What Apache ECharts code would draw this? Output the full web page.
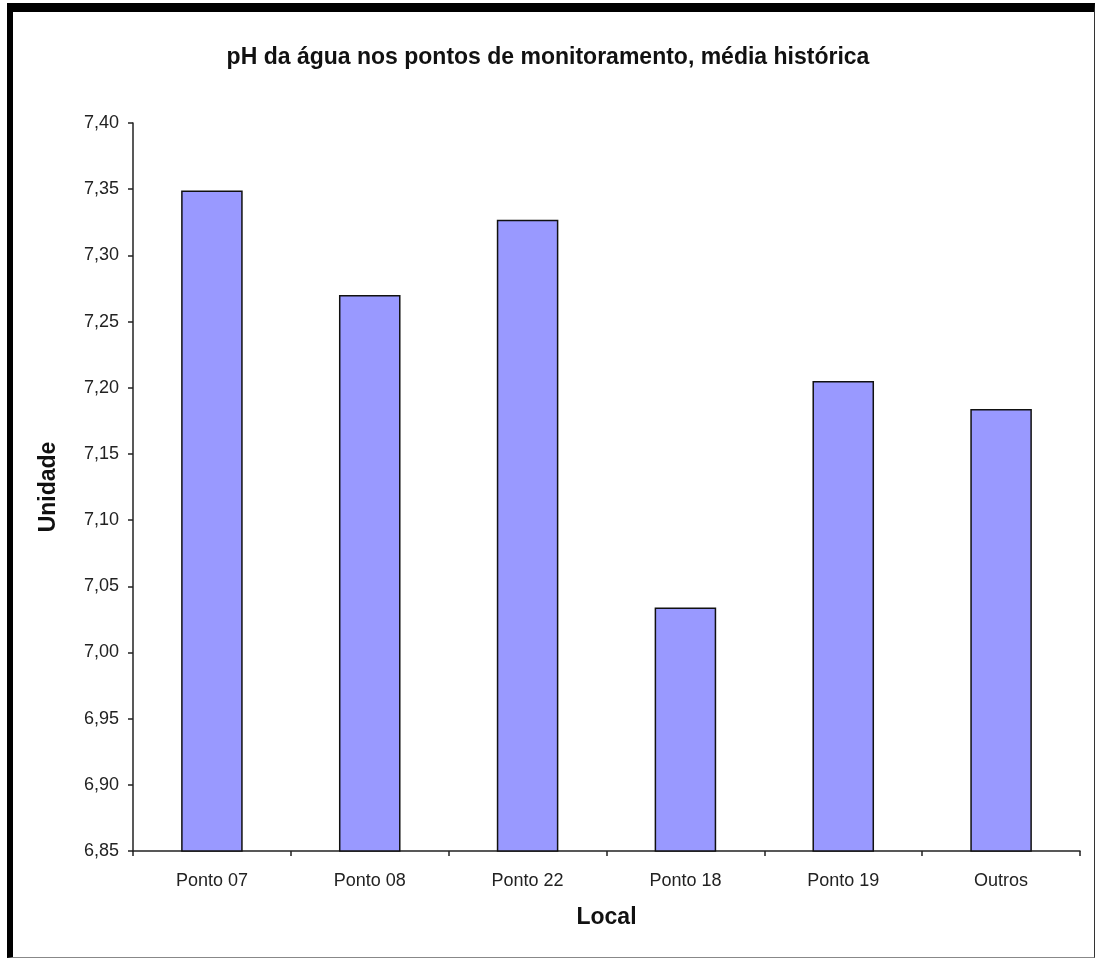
<!DOCTYPE html>
<html>
<head>
<meta charset="utf-8">
<script src="https://cdn.jsdelivr.net/npm/echarts@6/dist/echarts.min.js"></script>
<style>
html,body{margin:0;padding:0;background:#fff;}
#chart{width:1096px;height:959px;position:absolute;left:0;top:0;}
#frame{position:absolute;left:7px;top:3px;width:1081px;height:945px;border-top:9px solid #000;border-left:6px solid #000;border-right:1px solid #333;border-bottom:1px solid #888;pointer-events:none;}
</style>
</head>
<body>
<div id="chart"></div>
<div id="frame"></div>
<script>
var titleText = 'pH da água nos pontos de monitoramento, média histórica';
var categories = ['Ponto 07', 'Ponto 08', 'Ponto 22', 'Ponto 18', 'Ponto 19', 'Outros'];
var phValues = [7.349, 7.270, 7.327, 7.034, 7.205, 7.184];
var yAxisName = 'Unidade';
var xAxisName = 'Local';

var chart = echarts.init(document.getElementById('chart'));
chart.setOption({
  backgroundColor: '#fff',
  animation: false,
  title: {
    text: titleText,
    left: 'center',
    top: 41,
    textStyle: {fontFamily: 'Arial, Liberation Sans', fontWeight: 'bold', fontSize: 23, color: '#111'}
  },
  grid: {left: 133, right: 16, top: 123, bottom: 108, containLabel: false},
  xAxis: {
    type: 'category',
    data: categories,
    name: xAxisName,
    nameLocation: 'middle',
    nameGap: 55,
    nameTextStyle: {fontFamily: 'Arial, Liberation Sans', fontWeight: 'bold', fontSize: 23, color: '#111'},
    axisLine: {lineStyle: {color: '#222', width: 1.5}},
    axisTick: {show: true, length: 5, lineStyle: {color: '#222', width: 1.5}},
    axisLabel: {fontFamily: 'Arial, Liberation Sans', fontSize: 18, color: '#222', margin: 21}
  },
  yAxis: {
    type: 'value',
    min: 6.85,
    max: 7.40,
    interval: 0.05,
    name: yAxisName,
    nameLocation: 'middle',
    nameGap: 73,
    nameRotate: 90,
    nameTextStyle: {fontFamily: 'Arial, Liberation Sans', fontWeight: 'bold', fontSize: 23, color: '#111'},
    axisLine: {show: true, lineStyle: {color: '#222', width: 1.5}},
    axisTick: {show: true, length: 5, lineStyle: {color: '#222', width: 1.5}},
    splitLine: {show: false},
    axisLabel: {
      fontFamily: 'Arial, Liberation Sans', fontSize: 18, color: '#222', margin: 14,
      formatter: function (v) { return v.toFixed(2).replace('.', ','); }
    }
  },
  series: [{
    type: 'bar',
    data: phValues,
    barWidth: '39%',
    itemStyle: {color: '#9999FF', borderColor: '#111', borderWidth: 1.5}
  }]
});
</script>
</body>
</html>
